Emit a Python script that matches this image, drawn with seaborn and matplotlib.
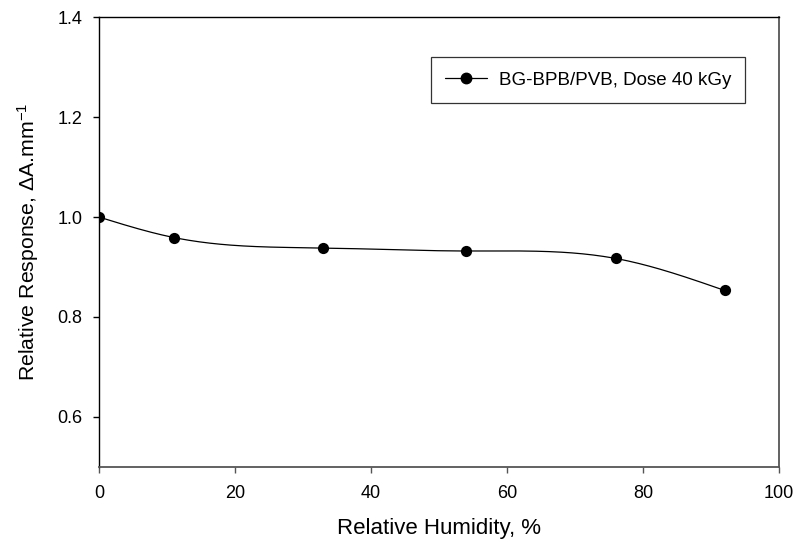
import numpy as np
import matplotlib
matplotlib.use("Agg")
import matplotlib.pyplot as plt
import seaborn as sns
from matplotlib.lines import Line2D

# Data
humidity = [0, 11, 33, 54, 76, 92]
response = [1.000, 0.959, 0.938, 0.932, 0.917, 0.853]
series_label = "BG-BPB/PVB, Dose 40 kGy"
x_ticks = [0, 20, 40, 60, 80, 100]
y_ticks = [0.6, 0.8, 1.0, 1.2, 1.4]

sns.set_style("ticks")
plt.rcParams["font.family"] = ["Liberation Sans", "DejaVu Sans"]
plt.rcParams["mathtext.fontset"] = "custom"
plt.rcParams["mathtext.rm"] = "Liberation Sans"
plt.rcParams["mathtext.it"] = "Liberation Sans"
plt.rcParams["mathtext.default"] = "regular"
plt.rcParams["text.color"] = "black"
plt.rcParams["axes.labelcolor"] = "black"
plt.rcParams["xtick.labelcolor"] = "black"
plt.rcParams["ytick.labelcolor"] = "black"


def natural_spline(x, y, n=300):
    # smooth line through the points (natural cubic spline)
    x = np.asarray(x, float)
    y = np.asarray(y, float)
    h = np.diff(x)
    k = len(x)
    A = np.zeros((k, k))
    b = np.zeros(k)
    A[0, 0] = A[-1, -1] = 1
    for i in range(1, k - 1):
        A[i, i - 1] = h[i - 1]
        A[i, i] = 2 * (h[i - 1] + h[i])
        A[i, i + 1] = h[i]
        b[i] = 6 * ((y[i + 1] - y[i]) / h[i] - (y[i] - y[i - 1]) / h[i - 1])
    m = np.linalg.solve(A, b)
    xs = np.linspace(x[0], x[-1], n)
    idx = np.clip(np.searchsorted(x, xs) - 1, 0, k - 2)
    t0 = xs - x[idx]
    t1 = x[idx + 1] - xs
    hi = h[idx]
    ys = (m[idx] * t1**3 + m[idx + 1] * t0**3) / (6 * hi) \
        + (y[idx] / hi - m[idx] * hi / 6) * t1 \
        + (y[idx + 1] / hi - m[idx + 1] * hi / 6) * t0
    return xs, ys


fig = plt.figure(figsize=(7.95, 5.43), dpi=100)
ax = fig.add_axes([0.1245, 0.1405, 0.8555, 0.8276])

xs, ys = natural_spline(humidity, response)
sns.lineplot(x=xs, y=ys, ax=ax, color="black", linewidth=0.9, sort=False)
sns.scatterplot(x=humidity, y=response, ax=ax, color="black", s=65,
                edgecolor="black", linewidth=0, zorder=3)

ax.set_xlim(0, 100)
ax.set_ylim(0.5, 1.4)
ax.set_xticks(x_ticks)
ax.set_yticks(y_ticks)
ax.set_xticklabels([str(v) for v in x_ticks])
ax.set_yticklabels([f"{v:.1f}" for v in y_ticks])
ax.tick_params(axis="both", direction="out", length=4.5, width=1,
               labelsize=13)
ax.tick_params(axis="x", color="#555555", pad=8.5)
ax.tick_params(axis="y", color="black", pad=7.2)

for side in ["left", "top"]:
    ax.spines[side].set_visible(True)
    ax.spines[side].set_color("black")
    ax.spines[side].set_linewidth(1)
for side in ["bottom", "right"]:
    ax.spines[side].set_visible(True)
    ax.spines[side].set_color("#555555")
    ax.spines[side].set_linewidth(1.3)

ax.set_xlabel("Relative Humidity, %", fontsize=16, labelpad=11.5)
ax.set_ylabel(r"Relative Response, $\Delta$A.mm$^{-1}$", fontsize=15.3,
              labelpad=12)

handle = Line2D([], [], color="black", linewidth=0.9, marker="o",
                markersize=7.5)
leg = ax.legend([handle], [series_label], loc="upper right",
                bbox_to_anchor=(0.95, 0.911), fontsize=13.5, frameon=True,
                fancybox=False, borderpad=0.75, handlelength=2.25,
                handletextpad=0.6, borderaxespad=0)
leg.get_frame().set_edgecolor("black")
leg.get_frame().set_linewidth(0.9)

fig.savefig("out.png", dpi=100, facecolor="white")
